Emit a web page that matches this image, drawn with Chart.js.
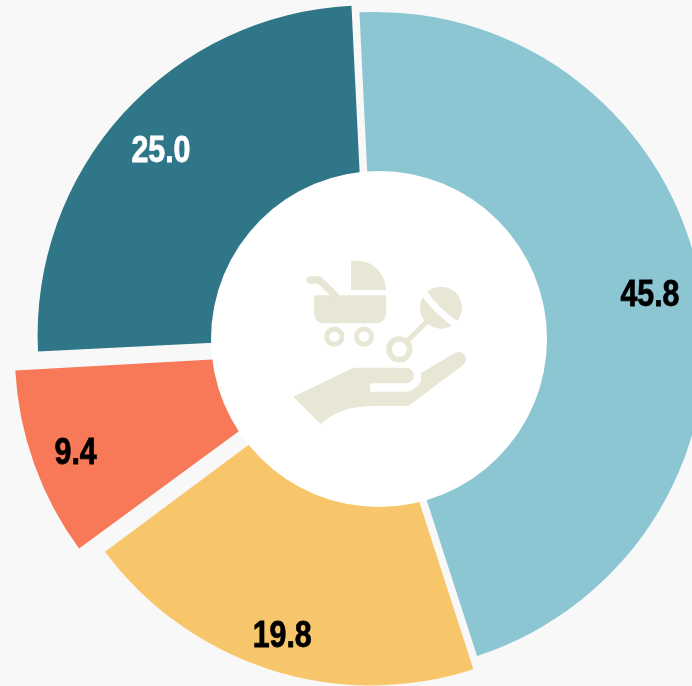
<!DOCTYPE html>
<html>
<head>
<meta charset="utf-8">
<style>
html, body { margin: 0; height: 100%; overflow: hidden; background: #f8f8f8; }
#wrap { position: absolute; left: -15px; top: -48px; width: 780px; height: 780px; }
</style>
<script src="https://cdn.jsdelivr.net/npm/chart.js@4"></script>
</head>
<body>
<div id="wrap"><canvas id="babyChart" width="780" height="780"></canvas></div>
<script>
var categories = ['A', 'B', 'C', 'D'];
var values = [45.8, 19.8, 9.4, 25.0];
var colors = ['#8cc6d3', '#f8c66a', '#f77958', '#2f7689'];
var offsets = [2, 48, 120, 40];
var outerRadii = [330, 332, 332, 330];
var labelColors = ['#000000', '#000000', '#000000', '#ffffff'];
var labelRadius = [279, 293, 288, 279];

// chart.js grows the radius of offset arcs, so set each one back by hand
var evenRadius = {
    id: 'evenRadius',
    beforeDatasetsDraw: function (chart) {
        chart.getDatasetMeta(0).data.forEach(function (arc, i) {
            var fix = 1 - Math.sin(Math.min(Math.PI, arc.circumference));
            arc.outerRadius = outerRadii[i] - offsets[i] / 4 * fix;
        });
    }
};

// white hole and the icon sit on top of the slices
var centerIcon = {
    id: 'centerIcon',
    afterDatasetsDraw: function (chart) {
        var c = chart.ctx;
        var cx = (chart.chartArea.left + chart.chartArea.right) / 2;
        var cy = (chart.chartArea.top + chart.chartArea.bottom) / 2;
        c.save();
        c.fillStyle = '#ffffff';
        c.beginPath();
        c.arc(cx + 4, cy - 3, 168, 0, Math.PI * 2);
        c.fill();

        // icon was traced at 3x, origin is 99,99 up-left of the hole centre
        c.translate(cx + 4 - 99, cy - 3 - 99);
        c.scale(1 / 3, 1 / 3);
        c.fillStyle = '#e8e6d5';
        c.strokeStyle = '#e8e6d5';
        c.lineCap = 'round';
        c.lineJoin = 'round';
        c.fill(new Path2D('M213 62 H235 C280 62 318 105 318 150 H213 Z'));
        c.fill(new Path2D('M102 166 H318 V215 Q318 250 283 250 H137 Q102 250 102 215 Z'));
        c.lineWidth = 22;
        c.stroke(new Path2D('M90 120 H118 L165 166'));
        c.lineWidth = 15;
        c.stroke(new Path2D('M186 290 A23 23 0 1 1 140 290 A23 23 0 1 1 186 290 Z'));
        c.stroke(new Path2D('M275 290 A23 23 0 1 1 229 290 A23 23 0 1 1 275 290 Z'));
        c.lineWidth = 17;
        c.stroke(new Path2D('M389 328 A31 31 0 1 1 327 328 A31 31 0 1 1 389 328 Z'));
        c.lineWidth = 15;
        c.lineCap = 'butt';
        c.stroke(new Path2D('M383 302 L442 243'));
        c.fill(new Path2D('M546 203 A63 63 0 1 1 420 203 A63 63 0 1 1 546 203 Z'));
        c.strokeStyle = '#ffffff';
        c.lineWidth = 20;
        c.stroke(new Path2D('M425 150 Q472 218 537 259'));
        c.fill(new Path2D('M40 470 L220 383 H378 A23 23 0 0 1 378 430 H270 V455 H380 Q400 455 423 425 V400 L525 338 Q545 330 558 350 Q562 365 545 378 L385 498 H290 Q180 495 122 553 Z'));
        c.restore();
    }
};

var sliceLabels = {
    id: 'sliceLabels',
    afterDraw: function (chart) {
        var c = chart.ctx;
        var arcs = chart.getDatasetMeta(0).data;
        arcs.forEach(function (arc, i) {
            var mid = (arc.startAngle + arc.endAngle) / 2;
            var x = arc.x + Math.cos(mid) * (offsets[i] / 4 + labelRadius[i]);
            var y = arc.y + Math.sin(mid) * (offsets[i] / 4 + labelRadius[i]);
            // no narrow bold font here, squeeze the normal one
            c.save();
            c.translate(x, y + 4);
            c.scale(0.82, 1);
            c.font = 'bold 37px "Liberation Sans", sans-serif';
            c.textAlign = 'center';
            c.textBaseline = 'middle';
            c.fillStyle = labelColors[i];
            c.strokeStyle = labelColors[i];
            c.lineWidth = 0.8;
            c.fillText(values[i].toFixed(1), 0, 0);
            c.strokeText(values[i].toFixed(1), 0, 0);
            c.restore();
        });
    }
};

var ctx = document.getElementById('babyChart').getContext('2d');
var babyChart = new Chart(ctx, {
    type: 'doughnut',
    data: {
        labels: categories,
        datasets: [{
            data: values,
            backgroundColor: colors,
            offset: offsets,
            borderWidth: 0
        }]
    },
    options: {
        responsive: false,
        animation: false,
        rotation: -2.8,
        cutout: '30%',
        layout: { padding: 0 },
        plugins: {
            legend: { display: false },
            tooltip: { enabled: false }
        }
    },
    plugins: [evenRadius, centerIcon, sliceLabels]
});
</script>
</body>
</html>
